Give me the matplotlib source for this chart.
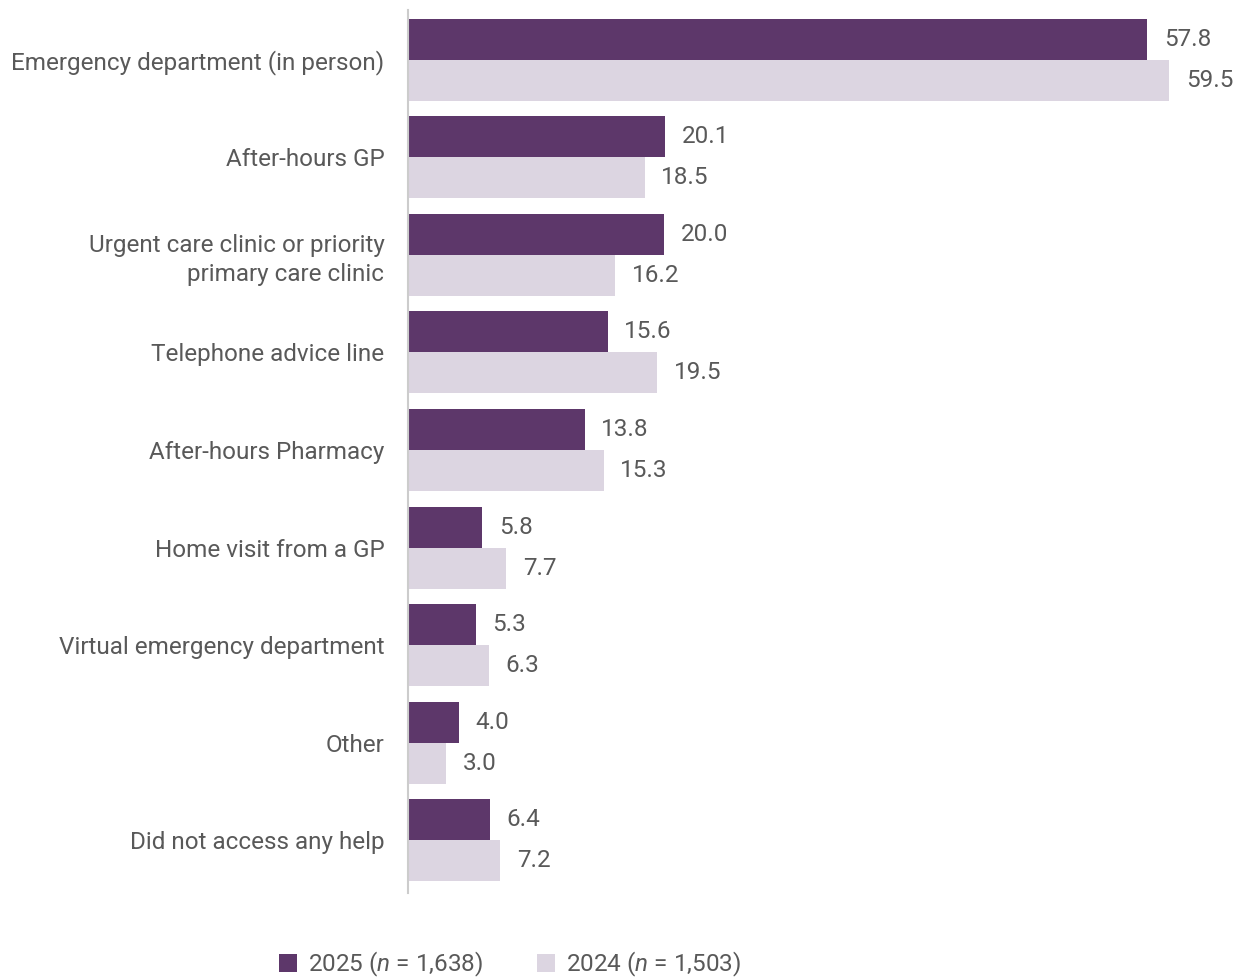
import matplotlib.pyplot as plt
import numpy as np

plt.rcParams['font.family'] = ['Roboto', 'DejaVu Sans']
plt.rcParams['mathtext.fontset'] = 'custom'
plt.rcParams['mathtext.rm'] = 'Roboto'
plt.rcParams['mathtext.it'] = 'Roboto:italic'

categories = [
    'Emergency department (in person)',
    'After-hours GP',
    'Urgent care clinic or priority\nprimary care clinic',
    'Telephone advice line',
    'After-hours Pharmacy',
    'Home visit from a GP',
    'Virtual emergency department',
    'Other',
    'Did not access any help',
]
vals_2025 = [57.8, 20.1, 20.0, 15.6, 13.8, 5.8, 5.3, 4.0, 6.4]
vals_2024 = [59.5, 18.5, 16.2, 19.5, 15.3, 7.7, 6.3, 3.0, 7.2]
series_labels = ['2025 ($\\mathit{n}$ = 1,638)', '2024 ($\\mathit{n}$ = 1,503)']

dark = '#5d376a'
light = '#dcd5e1'
text_col = '#595959'
fs = 17.5

fig = plt.figure(figsize=(12.42, 9.8), dpi=100)
ax = fig.add_axes([0.3285, 0.0888, 0.6715, 0.901])

y = np.arange(len(categories))
h = 0.42
b1 = ax.barh(y - h / 2, vals_2025, height=h, color=dark, label=series_labels[0])
b2 = ax.barh(y + h / 2, vals_2024, height=h, color=light, label=series_labels[1])

for bars, vals in ((b1, vals_2025), (b2, vals_2024)):
    for bar, v in zip(bars, vals):
        ax.text(v + 1.3, bar.get_y() + bar.get_height() / 2, f'{v:.1f}',
                va='center', ha='left', fontsize=fs, color=text_col)

ax.set_xlim(0, 65.2)
ax.set_ylim(8.54, -0.51)
ax.set_yticks(y)
ax.set_yticklabels(categories, fontsize=fs, color=text_col, linespacing=1.3)
ax.tick_params(axis='y', length=0, pad=17)
ax.set_xticks([])
for s in ('top', 'right', 'bottom'):
    ax.spines[s].set_visible(False)
ax.spines['left'].set_color('#cccccc')
ax.spines['left'].set_linewidth(1.5)

fig.legend(handles=[b1, b2], labels=series_labels, loc='center',
           bbox_to_anchor=(0.4106, 0.016), ncol=2, frameon=False,
           fontsize=fs, labelcolor=text_col, handlelength=0.75, handleheight=0.75,
           handletextpad=0.45, columnspacing=2.2)

fig.savefig('out.png', dpi=100)
